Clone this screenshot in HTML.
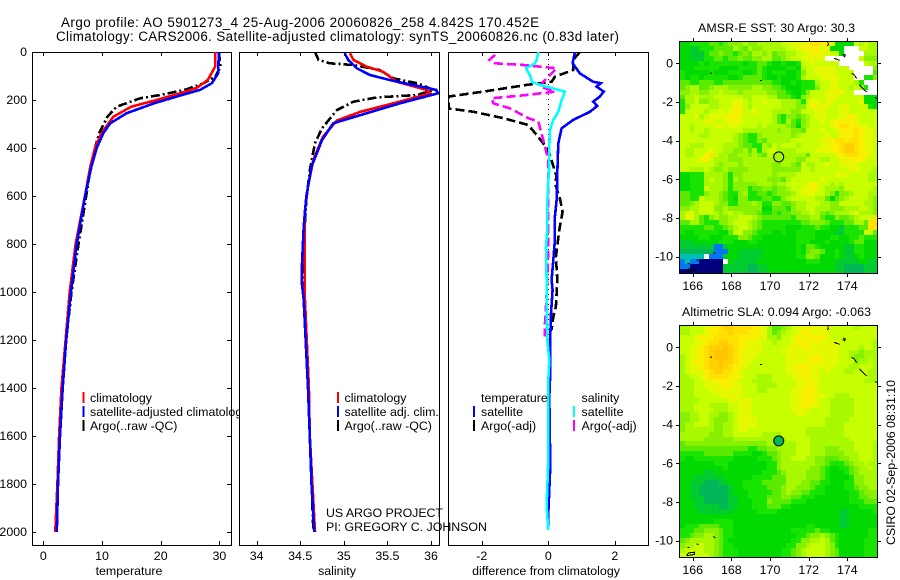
<!DOCTYPE html>
<html lang="en">
<head>
<meta charset="utf-8">
<title>Argo profile 5901273_4</title>
<style>
html,body{margin:0;padding:0;background:#fff;width:900px;height:580px;overflow:hidden}
svg{display:block}
text{font-family:"Liberation Sans",sans-serif;font-size:12.4px;fill:#000}
.big{font-size:13.4px}
.line{fill:none;shape-rendering:crispEdges;stroke-linejoin:miter}
.frame{fill:#fff;stroke:#000;stroke-width:1;shape-rendering:crispEdges}
.tick{stroke:#000;stroke-width:1;shape-rendering:crispEdges}
.bar{stroke-width:2;shape-rendering:crispEdges}
</style>
</head>
<body>
<svg id="chart" xmlns="http://www.w3.org/2000/svg" width="900" height="580" viewBox="0 0 900 580">
  <rect width="900" height="580" fill="#fff"/>
  <text class="big" x="61" y="27" textLength="478">Argo profile: AO 5901273_4 25-Aug-2006 20060826_258 4.842S 170.452E</text>
  <text class="big" x="56" y="41" textLength="563">Climatology: CARS2006. Satellite-adjusted climatology: synTS_20060826.nc (0.83d later)</text>
  <defs>
    <clipPath id="clip-temp"><rect x="32" y="52" width="199" height="493"/></clipPath>
    <clipPath id="clip-sal"><rect x="239" y="52" width="200" height="493"/></clipPath>
    <clipPath id="clip-diff"><rect x="448" y="52" width="200" height="493"/></clipPath>
    <clipPath id="clip-sst"><rect x="679" y="41" width="199" height="233"/></clipPath>
    <clipPath id="clip-sla"><rect x="679" y="325" width="199" height="233"/></clipPath>
  </defs>
  <g id="panel-temp"></g>
  <g id="panel-sal"></g>
  <g id="panel-diff"></g>
  <g id="map-sst"></g>
  <g id="map-sla"></g>
  <g id="notes">
    <text x="326" y="517" textLength="117">US ARGO PROJECT</text>
    <text x="326" y="531" textLength="161">PI: GREGORY C. JOHNSON</text>
    <text x="698" y="32" textLength="157">AMSR-E SST: 30 Argo: 30.3</text>
    <text x="682" y="316" textLength="189">Altimetric SLA: 0.094 Argo: -0.063</text>
    <text transform="translate(895,545) rotate(-90)" textLength="165">CSIRO 02-Sep-2006 08:31:10</text>
  </g>
</svg>
<script>
// ---------- profile data ----------
var depthTicks = [0,200,400,600,800,1000,1200,1400,1600,1800,2000];
var tempTicks = [0,10,20,30];
var salTicks = [34,34.5,35,35.5,36];
var salTickLabels = ['34','34.5','35','35.5','36'];
var diffTicks = [-2,0,2];
var diffTickLabels = ['-2','0','2'];

var tempClimDepth = [0,60,117,150,172,200,228,270,339,400,478,600,800,1000,1200,1400,1600,1800,2000];
var tempClim = [29.3,29.3,28,26.1,23.3,19.3,15,11.9,9.9,8.8,8,7.1,5.5,4.5,3.8,3.1,2.7,2.4,2.05];
var tempSatDepth = [0,89,130,158,186,214,255,297,339,400,478,600,800,1000,1200,1400,1600,1800,2000];
var tempSat = [29.9,29.8,28.7,26.7,22.7,18.8,14.2,11.4,10.2,9.1,8.2,7.1,5.7,4.7,3.9,3.3,2.85,2.5,2.3];
var tempArgoDepth = [0,60,103,130,158,179,193,228,270,339,400,478,600,800,1000,1200,1400,1600,1800,1990];
var tempArgo = [29.9,30.2,29.3,27.3,24.1,19.9,16.5,12.5,10.9,9.5,8.8,8.1,7.3,6,4.8,3.9,3.2,2.8,2.4,2.2];

var salClimDepth = [5,33,61,82,124,158,172,207,249,286,353,450,561,672,853,1000,1400,1600,1800,2000];
var salClim = [35.07,35.11,35.26,35.45,35.61,35.95,35.99,35.64,35.19,34.92,34.76,34.65,34.59,34.55,34.55,34.55,34.6,34.61,34.64,34.67];
var salSatDepth = [5,33,68,96,117,158,172,214,263,297,367,478,603,728,894,964,1033,1400,1600,1800,2000];
var salSat = [35.01,35.05,35.15,35.3,35.53,36.06,36.08,35.64,35.19,34.88,34.75,34.63,34.57,34.54,34.52,34.52,34.54,34.59,34.61,34.63,34.66];
var salArgoDepth = [0,33,47,54,75,110,130,158,179,189,207,242,318,380,492,617,800,1000,1400,1990];
var salArgo = [34.67,34.71,34.84,35.11,35.41,35.57,35.84,36.03,35.84,35.38,35.11,34.92,34.75,34.67,34.61,34.57,34.54,34.54,34.59,34.65];

var diffTempSatDepth = [0,47,89,124,130,144,165,186,207,225,249,283,318,381,506,533,617,686,783,867,950,992,1089,1228,1367,1436,1644,1755,1922,1992];
var diffTempSat = [0.8,0.73,0.95,1.35,1.58,1.45,1.67,1.55,1.35,1.47,1.25,0.75,0.4,0.3,0.27,0.27,0.25,0.2,0.2,0.15,0.1,0.13,0.08,0.05,0.05,0.03,0.05,0.05,0,0];
var diffSalSatDepth = [0,33,47,68,103,124,137,165,200,249,283,325,394,506,533,630,742,811,950,1061,1200,1283,1367,1506,1700,1894,1992];
var diffSalSat = [-0.3,-0.35,-0.4,-0.67,-0.53,-0.5,-0.25,0.5,0.4,0.3,0.15,0.05,0.03,0.02,0,-0.03,-0.03,-0.07,-0.05,-0.05,-0.03,0.03,0,0,0,-0.05,0];
var diffTempArgoDepth = [0,33,75,103,124,137,165,186,235,249,276,304,346,408,519,547,610,665,742,853,950,1061,1103,1158];
var diffTempArgo = [0.95,0.75,0.75,0.2,0.1,-0.65,-1.95,-3,-3,-2.25,-1.35,-0.6,-0.35,0,0.25,0.2,0.35,0.43,0.33,0.23,0.27,0.23,0.15,0.1];
var diffSalArgoDepth = [12,33,47,54,68,103,124,144,165,179,193,214,235,276,290,367,450,575,672,811,950,1061,1131,1186];
var diffSalArgo = [-1.6,-1.77,-1.6,-0.75,0.25,0,-0.15,-0.25,0.2,-0.65,-1.7,-1.65,-1.15,-0.6,-0.3,-0.15,0,0,0,0,-0.03,-0.07,-0.1,-0.1];

// ---------- map data: colour-level rows, north to south, 0.25 degree cells ----------
var lonTicks = [166,168,170,172,174];
var latTicks = [0,-2,-4,-6,-8,-10];
var levelKeys = 'abcdefghijklmnopw';
var levelColors = ['#00007f','#0078f0','#00c0b0','#00b858','#00cc30','#00da00','#18e400','#5cea00','#86f000','#a8f800','#c8ff00','#e4f800','#f8f000','#ffe000','#ffd000','#ffc400','#ffffff'];
var sstRows = [
'ffgggghhgh iiijiijjjj jkklllmnnm mlffffkjkj j',
'ffeeggghhh hjihjiijjj jjkklmmmml lfffwwwkkj j',
'ffeeeghhih hghihjjijh iijjkklmml lkkfwwwwjj j',
'ffeeegghhg hhihhiijjh hijkklllll wwwwwwwkii i',
'ffffgfgggg gggfgghhgf fgffgkklkk kkkwwwwwkj j',
'fffgggggff ffgggghgff ffggfjkkll llkkkwwwww i',
'gfffffgfff gggffghgfg ggffgikkll llkkkkwwww h',
'gfggfggggg ffghhhhgff gfffgjkkkl lllkkkwwgg i',
'hhgghhhggh hhhhhhhhhg gffgfgggjk kllkkkjgww w',
'hijjhhijjj iiiiijjiih hgfffgggik kllkkjkjgw w',
'iijjiijjkj jjijjjjjii hhgffgikkk llmlkkwwww w',
'hjjkjjjkkk kkkjjkkkjj hhhgfijkkk lllkkkkkff f',
'gjjkiijjkk kllkjkklkk kjjjigkllk llkkkkklff f',
'gikkkkjjkk kmlkjkkkkk kjjjiikmll lkkllkkkkg f',
'gkkkkjkklk lmmkklkkkj jjjiikkkll kkkllkkkkk k',
'kkkljkllll mmlkkkkkkj hgiihijkll kkkllmlkkk k',
'kkkkkllkkl lmlkkkkkkj hgjhgijkkl klmmmmlkkk k',
'kkjkkkkllk llkkkkjkjj jjihfijkkk klmnnmmllk k',
'kkjkkjkkkk kkkjjjjjjj ijjiihkkkl kklmmmnmll k',
'kkkkjjkkkk kjihggijjj jjjijkkkkk lkkmmmnmll k',
'kkkkkkkkkk kjihggihjj jjjkkkkkkl lmnnmnnmll k',
'kkjjjkkkkj jjihhggjik jkkkjkkkkl lmmnoonmll k',
'kjjkkklkkj jiijhjgjkk jjjjkkkkll lmmnoonmll k',
'kjjkkmnkjj iijjijihkj jjjjjjhkkk kkmmnnnmml k',
'kkkkmmkjjj iiijjjjjjj jjjjiikkkj jkkllmmmlk k',
'kkkkkkkjij jjijjjjjji ijjihkjjkk lkkllllkkk k',
'kkjjjkjiij iiiijjjjji iiiiikkjkk kkkkkllkkk j',
'ffgggjjjji giijjjjjji jjjjkkkkkk kklllkkkkj j',
'ffgggjkjji gjijjjjjii ihjkkkkkkl kkkkkkkkkj j',
'ffgggjjjji giiiiijjji jjkkkklmlk kjkjkkkkkk k',
'ffgggkjjji giiighhiih iijkkllmlk jjjikkkkkk j',
'hhgggijjih ggijgghhgh iiijklllkk jigiijkkkj j',
'hhggkjjjih gfiiggghhg gijkkkkkjj hfhijkkkkj i',
'hhijkkkjii ggiiijiggi ihhijjkkkj jiikkkkkjj i',
'iijjkkkiij iiiiiiiffh hhgijjkkjj jiiijjjkkj i',
'jkljkkkjij kjjiiihggh ghhiijjkji hijjjkljjj i',
'jlljhgijii jjkkkjihhh hhhgiiijjh ggihhijkkk n',
'hhjjhgggii jkkkjihggg ggggghhiii hggghhjjhn n',
'ggggghhggh ijkkjihggg ggfffggghg gffeggghhn n',
'gffgggggff hkkiihgggf fgffggggff ffeeggggkk h',
'ffffggfffg ggiihggfff ffffggggff fggffgghgg g',
'eeefffffgg gfffggffff ffffgggfff gffffghhff f',
'eeeeeeebbe ffffffffff ffffgfhhgf ffffeeggff f',
'dddddddbbb ffeeeeefff ffffgfhiih ffgfeeggff f',
'cccccwbbbe ffeeeeefff ffffggiihf ffgfeefgff f',
'bcbbaaaaaw feeeeeffff ffffffgggf ffeeeeeffe e',
'bbaaaaaaae eeeeddeeff ffffffffff ffeeddddee e',
'aaaaaaaaae eeeeddeeff ffffffffff ffeeddddee e'
];
var slaRows = [
'jjkkklmmno onnnnmmljh hijkllmlll lkkkkkjkkk k',
'jjkkklmmnn onnnmmmljh ijkklmmlll lkkkkkkkkk k',
'kkklmmmnnn nnmmmmlljj ikklmlmmmm lkkkkkkkkk k',
'kkkllmnnoo nnmmlllkkj kkklmmmlml lllkkkkkkk j',
'kkllmnooop onmmlllkkk kklllmmlll lllkkkkjkk j',
'kkllmnoppp onmllllkkk klllllllll lllkkjjijj j',
'jkllmnoppp onmlllkkkk kklllllmml lllkkjiijj j',
'jklmmnoopo onmllkkkkk kklllllmml lllkkkijjk j',
'jkllmnoopo nmmlkkkkkk kkllmmmlll llkkkjjkkk j',
'jklllmnoon nmlkkkkkkk kkllmmmllk lkkkjjkkkj j',
'jjkklmnnnn mmlkkkjjjk kkkllmmllk kkkkkkkkkj j',
'jjjkkllmmm mlkkkjjjjk kkkkllmllk kkkkkkkkjj j',
'jjjkklllmm mllkkkjjjj kkkkllmmlk kkkkkkkkkk k',
'jjjkkkllll lllkkkjjkk kkkllmmmlk kkkkkkkkkk k',
'jjjkkkkkll lllkkkkkkk kkkllmmmll kkjjjkkkkk k',
'jjjjkkkkkk lllllkkkkk kkkllmmmlk kjjjjjkkkk k',
'jjjkkkjjjj kklllkkkkk kkkllmmllk kjjjjjkkkk k',
'jjjkkkkjjj kklllkkkkk kkkllllkkk kjjjjjkkkk k',
'iijjkkjjii jklllkkkkk kkkkllkkkk kjjjjjkkkk k',
'iijjkkjiii jkllllkkkk kkkkkkkkkk jjjjjkkkkk k',
'ijjkkkjiij jkllllkkkk kkkkkkkkkk jjjjkkkkkk k',
'ijjjjjjiij jkllkkkkkk kkkkkkjjjj jjjjkkkkkk k',
'jjjjjjiiij jkkkkkkjjj jkkkkkjjjj jjjjkkkkkk k',
'jjjjjiiiii ijjjjjjjjj jjkkkkkjjj jjjjjkkkkk k',
'hiiiiiiiii iiiiiiiijj jjjjkkkjjj jjjjjjkkkk j',
'hhhhhhhhhh hhhhgghhii jjjjkkkjjj iiijjjkkkk j',
'ggggghhhhh hggggffghh ijjjkkkjjj iiiijjjkkk j',
'gffggggggg gfffffgggh ijjkkkjjii hhhiijjkkk j',
'fffffffggg ffffffffgg ijjjjjjjii hggghijjkj j',
'fffffffffg ffffffffgg ijjjjjjiih gffgghijjk j',
'fffffeefff fffffffggg hijjjjiiih gfffghijjj j',
'fffeeeeeef fffffggggh hhjjjjiiih gffffgiijj j',
'ffeeedddee fffgggghhh hhjjjiihhg gfffggiijj j',
'ffeedddddd effggggghh hijjiiihgg ffffgghiij j',
'ffeedddddd efffgggggh hijiihhggg fffffgghii i',
'ffeeeddddd eeffgggghh hiihhgggff fffffgghhi i',
'fffeeddddd eefffgggih hhhgggffff fffffggghh h',
'fffeeeeedd eefffggghh hggfffffff fffffffggg g',
'ffffeeeeee efffffgggg ffffffffff fffeefffff g',
'ffffffffff ffffffffff ffffffffff fffeefffff f',
'fffffffggg gfffffffff ffffffffff fffeefffff f',
'fggghhhhgg gfffffffff ffffffggff fffeefffff f',
'ggghhiiihg gfffffffff fffggggghg gffffffffg g',
'gghiijjihg gfffffffff ffffgghiij ihgffffffg g',
'hijjjjjihg ffffffffff fffggiijjk jhgfffffgg g',
'ijjkkjjihg gfffffffff ffggiijkkk jigfffffgg g',
'jkkkkjjihg ggffffffff fgghijkkkk jihfffffgg g',
'kkkkkkjihg ggffffffff fgghijkkkk jihfffffgg g'
];
var coastLons = [
 [172.98,173.03,172.95],[173.31,173.59,173.59],[173.79,173.9,173.86,173.76],
 [174.22,174.36,174.48],[174.62,174.83,175.03],[175.45,175.55],
 [166.9,167],[169.47,169.59],[165.72,165.83],[166.2,166.3],[167.07,167.17],
 [165.69,165.78,166.09,166.09,165.69]
];
var coastLats = [
 [1.09,0.98,0.9],[0.26,0.16,0.14],[0.48,0.43,0.34,0.41],
 [-0.52,-0.6,-0.78],[-1.12,-1.33,-1.5],[-1.76,-1.84],
 [-0.5,-0.52],[-0.88,-0.88],[-10.34,-10.36],[-10.17,-10.2],[-9.78,-9.86],
 [-10.78,-10.64,-10.6,-10.72,-10.78]
];
var argoLon = 170.452;
var argoLat = -4.842;
var argoSstLevel = 'j';
var argoSlaLevel = 'd';

// ---------- helpers ----------
var NS = 'http://www.w3.org/2000/svg';
function make(parent, tag, attrs) {
  var el = document.createElementNS(NS, tag);
  for (var k in attrs) el.setAttribute(k, attrs[k]);
  parent.appendChild(el);
  return el;
}
function depthY(d) { return 52 + d * 0.24; }
function tempX(v) { return 43.3 + v * 5.87; }
function salX(v) { return 256.6 + (v - 34) * 87.2; }
function diffX(v) { return 548.3 + v * 33.25; }

function drawFrame(g, left, top, w, h, name) {
  var f = make(g, 'rect', {x: left + 0.5, y: top + 0.5, width: w, height: h, 'class': 'frame'});
  
  
}
function drawXTicks(g, ticks, labels, scale, top, bottom, name) {
  ticks.forEach(function (t, i) {
    var x = Math.round(scale(t)) + 0.5;
    var a = make(g, 'line', {x1: x, x2: x, y1: top, y2: top + 4, 'class': 'tick'});
    
    
    var b = make(g, 'line', {x1: x, x2: x, y1: bottom - 4, y2: bottom, 'class': 'tick'});
    
    
    var l = make(g, 'text', {x: scale(t), y: 560, 'text-anchor': 'middle'});
    l.textContent = labels[i];
    
    
  });
}
function drawProfile(g, values, depths, scale, color, width, dash, clip, name) {
  var pts = values.map(function (v, i) { return scale(v).toFixed(1) + ',' + depthY(depths[i]).toFixed(1); }).join(' ');
  var attrs = {points: pts, 'class': 'line', stroke: color, 'stroke-width': width, 'clip-path': 'url(#' + clip + ')'};
  if (dash) attrs['stroke-dasharray'] = dash;
  var p = make(g, 'polyline', attrs);
  
  
}
function drawLegend(g, barX, textX, rows, prefix) {
  rows.forEach(function (r) {
    var y = r[2];
    if (r[1]) {
      var b = make(g, 'line', {x1: barX, x2: barX, y1: y - 10, y2: y + 1, stroke: r[1], 'class': 'bar'});
      
      
    }
    var t = make(g, 'text', {x: textX, y: y});
    t.textContent = r[0];
    
    
  });
}
function axisLabel(g, x, text, name) {
  var t = make(g, 'text', {x: x, y: 575, 'text-anchor': 'middle'});
  t.textContent = text;
  
  
}

// ---------- temperature panel ----------
var gT = document.getElementById('panel-temp');
drawFrame(gT, 32, 52, 199, 493, 'temperature-plot-frame');
drawXTicks(gT, tempTicks, tempTicks.map(String), tempX, 52, 545, 'temperature-axis');
depthTicks.forEach(function (d) {
  var y = Math.round(depthY(d)) + 0.5;
  var a = make(gT, 'line', {x1: 32, x2: 36, y1: y, y2: y, 'class': 'tick'});
  
  
  var b = make(gT, 'line', {x1: 227, x2: 231, y1: y, y2: y, 'class': 'tick'});
  
  
  var l = make(gT, 'text', {x: 27, y: depthY(d) + 4, 'text-anchor': 'end'});
  l.textContent = String(d);
  
  
});
drawProfile(gT, tempArgo, tempArgoDepth, tempX, '#000', 2.6, '9 3 2 3', 'clip-temp', 'temperature-argo-line');
drawProfile(gT, tempClim, tempClimDepth, tempX, '#f00', 2.6, null, 'clip-temp', 'temperature-climatology-line');
drawProfile(gT, tempSat, tempSatDepth, tempX, '#00f', 2.6, null, 'clip-temp', 'temperature-satellite-line');
drawLegend(gT, 83.5, 90, [['climatology', '#f00', 402], ['satellite-adjusted climatology', '#00f', 416], ['Argo(..raw -QC)', '#000', 430]], 'temperature');
axisLabel(gT, 129, 'temperature', 'temperature-axis-title');

// ---------- salinity panel ----------
var gS = document.getElementById('panel-sal');
drawFrame(gS, 239, 52, 200, 493, 'salinity-plot-frame');
drawXTicks(gS, salTicks, salTickLabels, salX, 52, 545, 'salinity-axis');
drawProfile(gS, salArgo, salArgoDepth, salX, '#000', 2.6, '9 3 2 3', 'clip-sal', 'salinity-argo-line');
drawProfile(gS, salClim, salClimDepth, salX, '#f00', 2.6, null, 'clip-sal', 'salinity-climatology-line');
drawProfile(gS, salSat, salSatDepth, salX, '#00f', 2.6, null, 'clip-sal', 'salinity-satellite-line');
drawLegend(gS, 338, 344.5, [['climatology', '#f00', 402], ['satellite adj. clim.', '#00f', 416], ['Argo(..raw -QC)', '#000', 430]], 'salinity');
axisLabel(gS, 337, 'salinity', 'salinity-axis-title');

// ---------- difference panel ----------
var gD = document.getElementById('panel-diff');
drawFrame(gD, 448, 52, 200, 493, 'difference-plot-frame');
drawXTicks(gD, diffTicks, diffTickLabels, diffX, 52, 545, 'difference-axis');
var zero = make(gD, 'line', {x1: 548.5, x2: 548.5, y1: 54, y2: 532, stroke: '#000', 'stroke-width': 1, 'stroke-dasharray': '1 4', 'shape-rendering': 'crispEdges'});


drawProfile(gD, diffTempArgo, diffTempArgoDepth, diffX, '#000', 2.6, '9 4', 'clip-diff', 'difference-temperature-argo-line');
drawProfile(gD, diffSalArgo, diffSalArgoDepth, diffX, '#f0f', 2.6, '9 4', 'clip-diff', 'difference-salinity-argo-line');
drawProfile(gD, diffTempSat, diffTempSatDepth, diffX, '#00f', 2.6, null, 'clip-diff', 'difference-temperature-satellite-line');
drawProfile(gD, diffSalSat, diffSalSatDepth, diffX, '#0ff', 2.6, null, 'clip-diff', 'difference-salinity-satellite-line');
drawLegend(gD, 474, 481, [['temperature', null, 402], ['satellite', '#00f', 416], ['Argo(-adj)', '#000', 430]], 'difference-temperature');
drawLegend(gD, 574, 581.5, [['salinity', null, 402], ['satellite', '#0ff', 416], ['Argo(-adj)', '#f0f', 430]], 'difference-salinity');
axisLabel(gD, 546, 'difference from climatology', 'difference-axis-title');

// ---------- maps ----------
function drawMap(g, rows, top, clip, argoLevel, prefix) {
  var lonX = function (lon) { return 770 + (lon - 170) * 19.33; };
  var latY = function (lat) { return top + 22.3 - lat * 19.33; };
  rows.forEach(function (row, r) {
    var cells = row.replace(/ /g, '');
    for (var c = 0; c < cells.length; c++) {
      var x0 = Math.round(lonX(165.34 + c * 0.25)), x1 = Math.round(lonX(165.34 + (c + 1) * 0.25));
      var y0 = Math.round(latY(1.13 - r * 0.25)), y1 = Math.round(latY(1.13 - (r + 1) * 0.25));
      var cell = make(g, 'rect', {x: x0, y: y0, width: x1 - x0, height: y1 - y0, fill: levelColors[levelKeys.indexOf(cells[c])], 'shape-rendering': 'crispEdges', 'clip-path': 'url(#' + clip + ')'});
      
      
    }
  });
  coastLons.forEach(function (lons, i) {
    var pts = lons.map(function (lon, j) { return lonX(lon).toFixed(1) + ',' + latY(coastLats[i][j]).toFixed(1); }).join(' ');
    var p = make(g, 'polyline', {points: pts, fill: 'none', stroke: '#000', 'stroke-width': 1, 'shape-rendering': 'crispEdges', 'clip-path': 'url(#' + clip + ')'});
    
    
  });
  var frame = make(g, 'rect', {x: 679.5, y: top + 0.5, width: 198, height: 232, fill: 'none', stroke: '#000', 'shape-rendering': 'crispEdges'});
  
  
  lonTicks.forEach(function (lon) {
    var x = Math.round(lonX(lon)) + 0.5;
    var a = make(g, 'line', {x1: x, x2: x, y1: top - 3, y2: top, 'class': 'tick'});
    
    
    var b = make(g, 'line', {x1: x, x2: x, y1: top + 233, y2: top + 236, 'class': 'tick'});
    
    
    var l = make(g, 'text', {x: lonX(lon), y: top + 249, 'text-anchor': 'middle'});
    l.textContent = String(lon);
    
    
  });
  latTicks.forEach(function (lat) {
    var y = Math.round(latY(lat)) + 0.5;
    var a = make(g, 'line', {x1: 676, x2: 679, y1: y, y2: y, 'class': 'tick'});
    
    
    var b = make(g, 'line', {x1: 878, x2: 881, y1: y, y2: y, 'class': 'tick'});
    
    
    var l = make(g, 'text', {x: 673, y: latY(lat) + 4, 'text-anchor': 'end'});
    l.textContent = String(lat);
    
    
  });
  var m = make(g, 'circle', {cx: lonX(argoLon), cy: latY(argoLat), r: 5, fill: levelColors[levelKeys.indexOf(argoLevel)], stroke: '#000', 'stroke-width': 1});
  
  
}
drawMap(document.getElementById('map-sst'), sstRows, 41, 'clip-sst', argoSstLevel, 'sst');
drawMap(document.getElementById('map-sla'), slaRows, 325, 'clip-sla', argoSlaLevel, 'sla');
</script>
</body>
</html>
